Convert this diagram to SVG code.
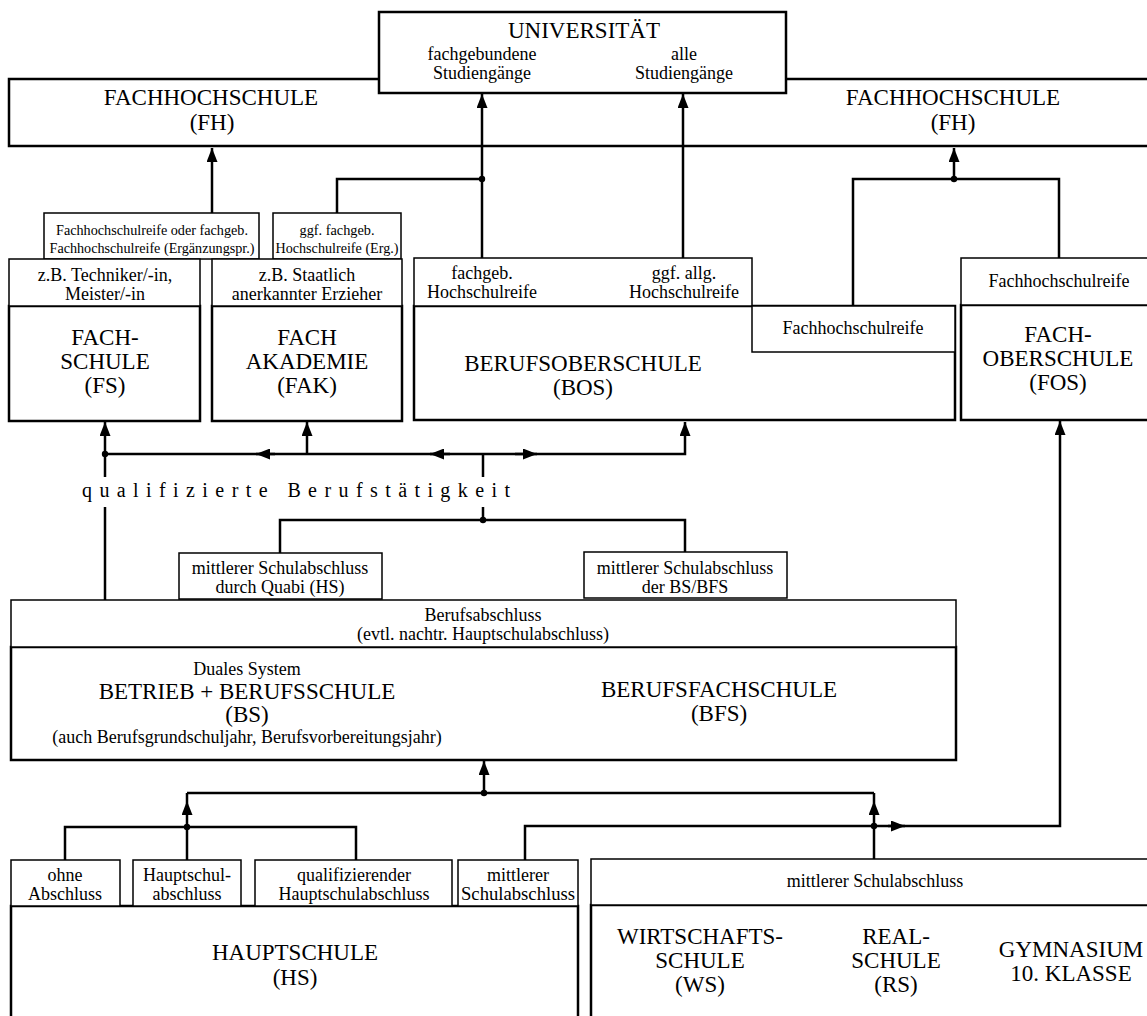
<svg xmlns="http://www.w3.org/2000/svg" width="1147" height="1016" viewBox="0 0 1147 1016">
<style>
text{font-family:"Liberation Serif","Times New Roman",serif;fill:#000;text-anchor:middle}
.big{font-size:23px}
.lab{font-size:18px}
.sm{font-size:15px}
.qb{font-size:20px;text-anchor:start}
.main{fill:#fff;stroke:#000;stroke-width:2.5}
.label{fill:#fff;stroke:#000;stroke-width:1.5}
.con{fill:none;stroke:#000;stroke-width:2.5}
.dot{fill:#000}
</style>
<defs>
<marker id="ah" markerUnits="userSpaceOnUse" markerWidth="14" markerHeight="11" viewBox="0 0 14 11" refX="14" refY="5.5" orient="auto"><path d="M0,0 L14,5.5 L0,11 Z" fill="#000"/></marker>
</defs>
<rect x="0" y="0" width="1147" height="1016" fill="#fff"/>

<g id="fh">
<rect class="main" x="9" y="79" width="1150" height="67"/>
<text class="big"><tspan x="211" y="105">FACHHOCHSCHULE</tspan><tspan x="212" y="130">(FH)</tspan></text>
<text class="big"><tspan x="953" y="105">FACHHOCHSCHULE</tspan><tspan x="953" y="130">(FH)</tspan></text>
</g>

<g id="uni">
<rect class="main" x="379" y="12" width="407" height="81"/>
<text class="big" x="584" y="38">UNIVERSITÄT</text>
<text class="lab"><tspan x="482" y="60">fachgebundene</tspan><tspan x="482" y="79">Studiengänge</tspan></text>
<text class="lab"><tspan x="684" y="60">alle</tspan><tspan x="684" y="79">Studiengänge</tspan></text>
</g>

<g id="fs-abschluss">
<rect class="label" x="44" y="213" width="215" height="46"/>
<text class="sm"><tspan x="152" y="235" textLength="192" lengthAdjust="spacingAndGlyphs">Fachhochschulreife oder fachgeb.</tspan><tspan x="152" y="253" textLength="205" lengthAdjust="spacingAndGlyphs">Fachhochschulreife (Ergänzungspr.)</tspan></text>
</g>

<g id="fak-abschluss">
<rect class="label" x="273" y="213" width="128" height="46"/>
<text class="sm"><tspan x="337" y="235" textLength="75" lengthAdjust="spacingAndGlyphs">ggf. fachgeb.</tspan><tspan x="337" y="253" textLength="123" lengthAdjust="spacingAndGlyphs">Hochschulreife (Erg.)</tspan></text>
</g>

<g id="fs">
<rect class="main" x="9" y="306" width="191" height="115"/>
<rect class="label" x="9" y="259" width="191" height="47"/>
<text class="lab"><tspan x="105" y="281">z.B. Techniker/-in,</tspan><tspan x="105" y="300">Meister/-in</tspan></text>
<text class="big"><tspan x="105" y="345">FACH-</tspan><tspan x="105" y="369">SCHULE</tspan><tspan x="105" y="393">(FS)</tspan></text>
</g>

<g id="fak">
<rect class="main" x="212" y="306" width="190" height="115"/>
<rect class="label" x="212" y="259" width="190" height="47"/>
<text class="lab"><tspan x="307" y="281">z.B. Staatlich</tspan><tspan x="307" y="300">anerkannter Erzieher</tspan></text>
<text class="big"><tspan x="307" y="345">FACH</tspan><tspan x="307" y="369">AKADEMIE</tspan><tspan x="307" y="393">(FAK)</tspan></text>
</g>

<g id="bos">
<rect class="main" x="414" y="306" width="541" height="114"/>
<rect class="label" x="414" y="258" width="338" height="48"/>
<rect class="label" x="752" y="306" width="203" height="46"/>
<text class="lab"><tspan x="482" y="279">fachgeb.</tspan><tspan x="482" y="298">Hochschulreife</tspan></text>
<text class="lab"><tspan x="684" y="279">ggf. allg.</tspan><tspan x="684" y="298">Hochschulreife</tspan></text>
<text class="lab" x="853" y="334">Fachhochschulreife</text>
<text class="big"><tspan x="583" y="371">BERUFSOBERSCHULE</tspan><tspan x="583" y="395">(BOS)</tspan></text>
</g>

<g id="fos">
<rect class="main" x="961" y="305" width="195" height="115"/>
<rect class="label" x="961" y="258" width="195" height="47"/>
<text class="lab" x="1059" y="287">Fachhochschulreife</text>
<text class="big"><tspan x="1058" y="342">FACH-</tspan><tspan x="1058" y="366">OBERSCHULE</tspan><tspan x="1058" y="390">(FOS)</tspan></text>
</g>

<g id="berufstaetigkeit">
<text class="qb" x="82" y="497" textLength="428" lengthAdjust="spacing">qualifizierte Berufstätigkeit</text>
</g>

<g id="quabi">
<rect class="label" x="179" y="553" width="203" height="46"/>
<text class="lab"><tspan x="280" y="574">mittlerer Schulabschluss</tspan><tspan x="280" y="593">durch Quabi (HS)</tspan></text>
</g>

<g id="bs-bfs-abschluss">
<rect class="label" x="584" y="552" width="203" height="46"/>
<text class="lab"><tspan x="685" y="574">mittlerer Schulabschluss</tspan><tspan x="685" y="593">der BS/BFS</tspan></text>
</g>

<g id="bs">
<rect class="main" x="11" y="647" width="945" height="113"/>
<rect class="label" x="11" y="600" width="945" height="47"/>
<text class="lab"><tspan x="483" y="621">Berufsabschluss</tspan><tspan x="483" y="640">(evtl. nachtr. Hauptschulabschluss)</tspan></text>
<text class="lab"><tspan x="247" y="675">Duales System</tspan><tspan class="big" x="247" y="699">BETRIEB + BERUFSSCHULE</tspan><tspan class="big" x="247" y="722">(BS)</tspan><tspan x="247" y="743">(auch Berufsgrundschuljahr, Berufsvorbereitungsjahr)</tspan></text>
<text class="big"><tspan x="719" y="697">BERUFSFACHSCHULE</tspan><tspan x="719" y="721">(BFS)</tspan></text>
</g>

<g id="hs">
<rect class="main" x="11" y="906" width="567" height="125"/>
<rect class="label" x="11" y="860" width="109" height="46"/>
<rect class="label" x="133" y="860" width="108" height="46"/>
<rect class="label" x="255" y="860" width="197" height="46"/>
<rect class="label" x="458" y="860" width="120" height="46"/>
<text class="lab"><tspan x="65" y="881">ohne</tspan><tspan x="65" y="900">Abschluss</tspan></text>
<text class="lab"><tspan x="187" y="881">Hauptschul-</tspan><tspan x="187" y="900">abschluss</tspan></text>
<text class="lab"><tspan x="354" y="881">qualifizierender</tspan><tspan x="354" y="900">Hauptschulabschluss</tspan></text>
<text class="lab"><tspan x="518" y="881">mittlerer</tspan><tspan x="518" y="900" textLength="114" lengthAdjust="spacingAndGlyphs">Schulabschluss</tspan></text>
<text class="big"><tspan x="295" y="960">HAUPTSCHULE</tspan><tspan x="295" y="985">(HS)</tspan></text>
</g>

<g id="ws-rs-gym">
<rect class="main" x="591" y="905" width="570" height="125"/>
<rect class="label" x="591" y="859" width="570" height="46"/>
<text class="lab" x="875" y="887">mittlerer Schulabschluss</text>
<text class="big"><tspan x="700" y="944">WIRTSCHAFTS-</tspan><tspan x="700" y="968">SCHULE</tspan><tspan x="700" y="992">(WS)</tspan></text>
<text class="big"><tspan x="896" y="944">REAL-</tspan><tspan x="896" y="968">SCHULE</tspan><tspan x="896" y="992">(RS)</tspan></text>
<text class="big"><tspan x="1071" y="957">GYMNASIUM</tspan><tspan x="1071" y="981">10. KLASSE</tspan></text>
</g>

<g id="connectors">
<path class="con" d="M212,213 V148" marker-end="url(#ah)"/>
<path class="con" d="M482,258 V94" marker-end="url(#ah)"/>
<path class="con" d="M683,258 V94" marker-end="url(#ah)"/>
<path class="con" d="M337,213 V179 H482"/>
<path class="con" d="M853,306 V179 H1059 V258"/>
<path class="con" d="M954,179 V148" marker-end="url(#ah)"/>
<path class="con" d="M105,454 H685 V422" marker-end="url(#ah)"/>
<path class="con" d="M105,477 V422" marker-end="url(#ah)"/>
<path class="con" d="M105,600 V507"/>
<path class="con" d="M307,454 V422" marker-end="url(#ah)"/>
<path class="con" d="M275,454 H256" marker-end="url(#ah)"/>
<path class="con" d="M450,454 H430" marker-end="url(#ah)"/>
<path class="con" d="M515,454 H537" marker-end="url(#ah)"/>
<path class="con" d="M483,454 V477"/>
<path class="con" d="M483,507 V520"/>
<path class="con" d="M280,553 V520 H685 V552"/>
<path class="con" d="M484,793 V761" marker-end="url(#ah)"/>
<path class="con" d="M187,793 H874"/>
<path class="con" d="M65,860 V827 H356 V860"/>
<path class="con" d="M187,860 V827"/>
<path class="con" d="M187,827 V801" marker-end="url(#ah)"/>
<path class="con" d="M187,801 V793"/>
<path class="con" d="M525,860 V826 H1060 V421" marker-end="url(#ah)"/>
<path class="con" d="M874,859 V826"/>
<path class="con" d="M874,826 V801" marker-end="url(#ah)"/>
<path class="con" d="M874,801 V793"/>
<path class="con" d="M888,826 H905" marker-end="url(#ah)"/>
<circle class="dot" cx="482" cy="179" r="3.2"/>
<circle class="dot" cx="954" cy="179" r="3.2"/>
<circle class="dot" cx="105" cy="454" r="3.2"/>
<circle class="dot" cx="483" cy="520" r="3.2"/>
<circle class="dot" cx="484" cy="793" r="3.2"/>
<circle class="dot" cx="187" cy="827" r="3.2"/>
<circle class="dot" cx="874" cy="826" r="3.2"/>
</g>
</svg>
